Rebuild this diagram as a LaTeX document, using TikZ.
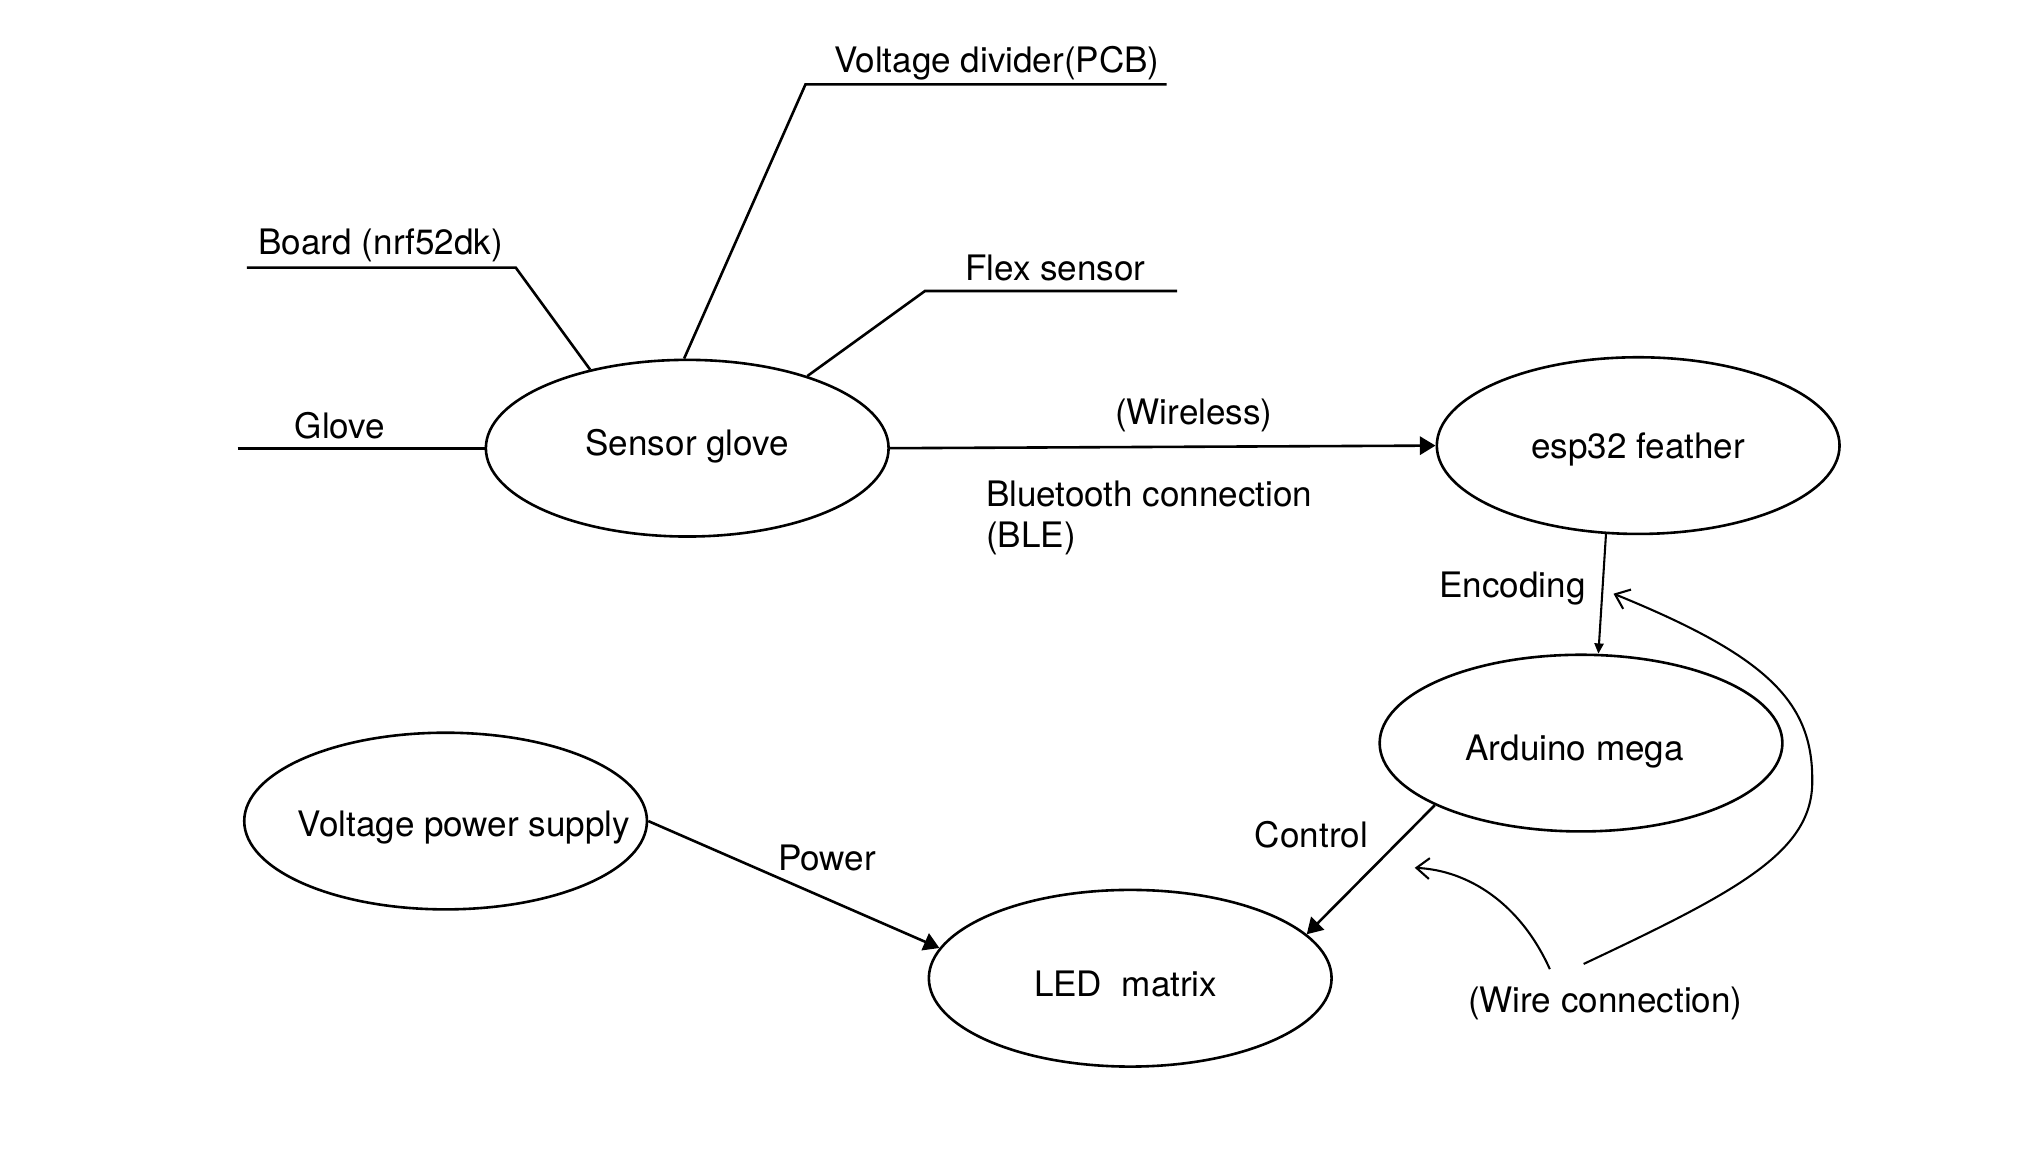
\documentclass[tikz,border=0pt]{standalone}
\usepackage{fontspec}
\setmainfont{TeX Gyre Heros}
\usetikzlibrary{shapes.geometric,arrows.meta}

\begin{document}
\begin{tikzpicture}[x=0.5pt, y=-0.5pt,
            line width=1pt,
            every node/.style={font=\fontsize{13.5}{16}\selectfont, inner sep=0pt, text height=9.7pt, text depth=0pt},
            unit/.style = {draw, ellipse, minimum width=155pt, minimum height=68pt},
            tag/.style = {anchor=west},
            link/.style = {-{Triangle[length=6pt,width=7pt]}},
            wire/.style = {line width=0.8pt, -{Straight Barb[length=5pt,width=8pt]}},
            ]
            \useasboundingbox (0,0) rectangle (1568,889);

            % the five units
            \node[unit, label={[yshift=2pt]center:Sensor glove}] (glove) at (529,345) {};
            \node[unit, label=center:esp32 feather] (esp) at (1261,343) {};
            \node[unit, label={[xshift=-2.5pt,yshift=-2pt]center:Arduino mega}] (ard) at (1217,572) {};
            \node[unit, label={[xshift=7pt,yshift=-1pt]center:Voltage power supply}] (vps) at (343,632) {};
            \node[unit, label={[xshift=-1.75pt,yshift=-2pt]center:LED\ \ matrix}] (led) at (870,753) {};

            % parts of the glove
            \node[tag] (glovetag) at (226,328) {Glove};
            \node[tag] (boardtag) at (198,186) {Board (nrf52dk)};
            \node[tag] (divtag) at (641,46) {Voltage divider(PCB)};
            \node[tag] (flextag) at (742,206) {Flex sensor};
            \coordinate (glovefoot) at (183,345);
            \coordinate (boardfoot) at (190,206);
            \coordinate (boardknee) at (397,206);
            \coordinate (divknee) at (620,65);
            \coordinate (divfoot) at (898,65);
            \coordinate (flexknee) at (712,224);
            \coordinate (flexfoot) at (906,224);

            \draw (glovefoot) -- (glove.west);
            \draw (boardfoot) -- (boardknee) -- (glove.141);
            \draw (divfoot) -- (divknee) -- (glove.92);
            \draw (flexfoot) -- (flexknee) -- (glove.31);

            % links
            \draw[link] (glove.east) -- (esp.west);
            \node (wireless) at (919,317) {(Wireless)};
            \node[tag] (bt) at (758,380) {Bluetooth connection};
            \node[tag] (ble) at (758,412) {(BLE)};

            \draw[line width=0.8pt, -{Triangle[length=4pt,width=3.5pt]}] (esp.250) -- (ard.79);
            \node[tag] (enc) at (1107,450) {Encoding};

            \draw[link] (ard.203) -- (led.14);
            \node[tag] (ctrl) at (965,643) {Control};

            \draw[link] (vps.east) -- (led.171);
            \node[tag] (pow) at (598,660) {Power};

            % wire connection
            \node[tag] (wiretag) at (1129,770) {(Wire connection)};
            \coordinate (wireA) at (1193,746);
            \coordinate (wireB) at (1219,742);
            \coordinate (ctrlend) at (1089,668);
            \coordinate (encend) at (1242,457);
            \draw[wire] (wireA) .. controls (1170,695) and (1130,670) .. (ctrlend);
            \draw[wire] (wireB) .. controls (1340,685) and (1396,655) .. (1395,600)
                                .. controls (1395,540) and (1360,505) .. (encend);
\end{tikzpicture}
\end{document}
